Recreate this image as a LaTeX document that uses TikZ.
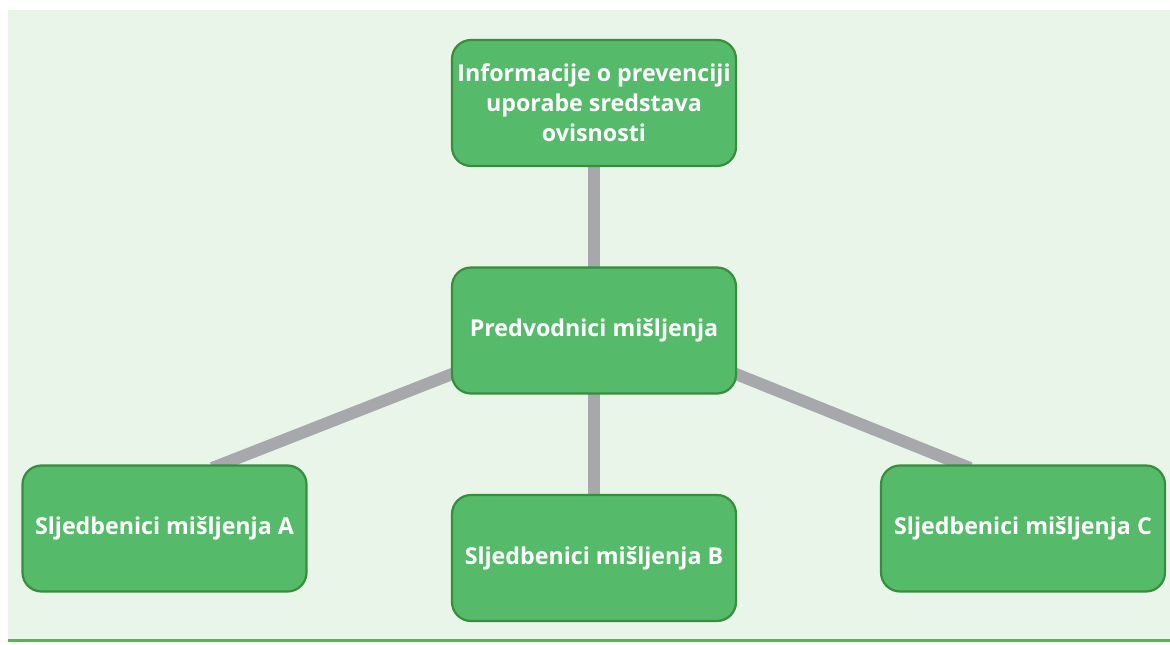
\documentclass[tikz,border=0pt]{standalone}
\usepackage{fontspec}
\setmainfont{Open Sans}
\usetikzlibrary{calc,backgrounds}
\definecolor{bgGreen}{HTML}{EAF5EA}
\definecolor{boxFill}{HTML}{55BB6A}
\definecolor{boxEdge}{HTML}{378E3C}
\definecolor{linkGray}{HTML}{A7A8AB}
\definecolor{ruleGreen}{HTML}{4DBB48}
\begin{document}
\begin{tikzpicture}[x=1bp,y=1bp,
  idea/.style={draw=boxEdge,line width=2.2bp,fill=boxFill,rounded corners=19bp,
    minimum width=284bp,minimum height=126bp,inner sep=3bp,align=center,
    text=white,font=\fontsize{23.3}{30}\selectfont\bfseries},
  link/.style={draw=linkGray,line width=12bp,shorten <=-10bp,shorten >=-10bp},
]
\useasboundingbox (0bp,0bp) rectangle (1170bp,645bp);
%%
\node (node_info) at (594.0bp,542.0bp) [idea] {Informacije o prevenciji\\uporabe sredstava\\ovisnosti};
  \node (node_lead) at (594.0bp,314.5bp) [idea] {Predvodnici mišljenja};
  \node (node_a) at (164.5bp,116.5bp) [idea] {Sljedbenici mišljenja A};
  \node (node_b) at (594.0bp,87.0bp) [idea] {Sljedbenici mišljenja B};
  \node (node_c) at (1023.0bp,116.5bp) [idea] {Sljedbenici mišljenja C};
\begin{pgfonlayer}{background}
  \fill [bgGreen] (8bp,6bp) rectangle (1170bp,635bp);
  \draw [ruleGreen,line width=3bp] (8bp,4.5bp) -- (1170bp,4.5bp);
  \draw [link] (node_info) -- (node_lead);
  \draw [link] (node_lead) -- (node_b);
  \draw [link] ($(node_lead.west)+(0bp,-44bp)$) -- ($(node_a.north)+(57bp,0bp)$);
  \draw [link] ($(node_lead.east)+(0bp,-44bp)$) -- ($(node_c.north)+(-62bp,0bp)$);
\end{pgfonlayer}
%
\end{tikzpicture}
\end{document}
